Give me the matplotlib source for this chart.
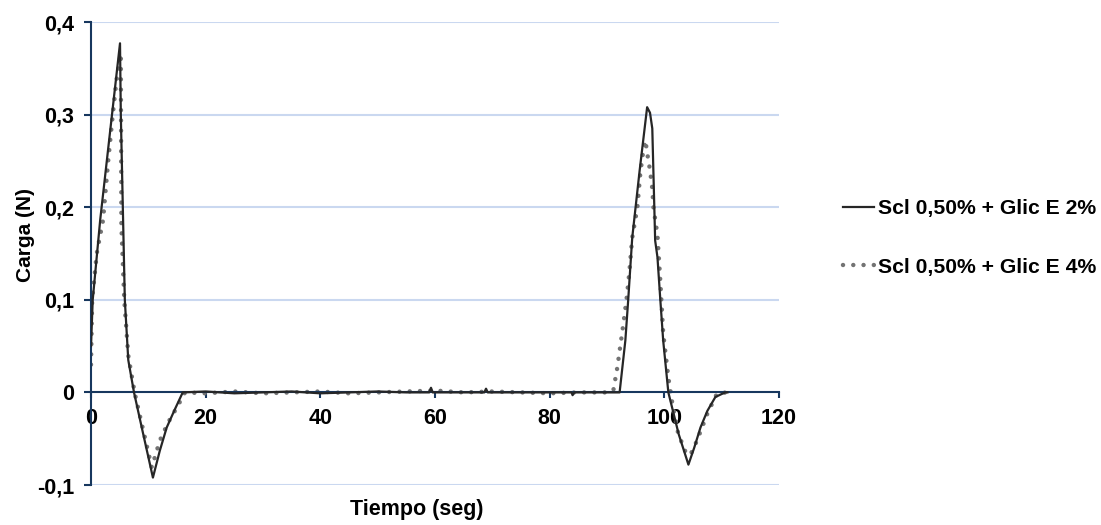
import matplotlib
matplotlib.use("Agg")
import matplotlib.pyplot as plt
from matplotlib.ticker import FuncFormatter

plt.rcParams['font.family'] = ['Liberation Sans', 'DejaVu Sans']
plt.rcParams['font.weight'] = 'bold'

# Series 1: Scl 0,50% + Glic E 2% (solid)
t_2 = [0, 0.3, 1.6, 3.3, 5.06, 5.2, 5.9, 6.5, 7.5, 9.0, 10.8, 12.0, 13.2, 14.5, 16.0,
       20, 25, 30, 35, 40, 45, 50, 55, 59.0, 59.3, 59.6, 65, 68.6, 68.9, 69.2, 75, 80,
       83.8, 84.0, 84.3, 88, 92.2, 93.2, 93.7, 94.4, 95.7, 97.0, 97.5, 97.9, 98.4, 98.8,
       99.3, 99.8, 100.7, 102.5, 104.2, 105.2, 106.3, 107.5, 108.9, 110.6, 111.0]
v_2 = [0.05, 0.10, 0.186, 0.28, 0.377, 0.30, 0.10, 0.035, 0.0, -0.042, -0.092, -0.063, -0.038, -0.02, 0.0,
       0.001, -0.001, 0.0, 0.001, -0.001, 0.0, 0.001, 0.0, 0.0, 0.005, 0.0, 0.0, 0.0, 0.004, 0.0, 0.0, 0.0,
       0.0, -0.003, 0.0, 0.0, 0.0, 0.056, 0.10, 0.167, 0.24, 0.308, 0.302, 0.285, 0.164, 0.146,
       0.10, 0.056, 0.0, -0.045, -0.078, -0.06, -0.038, -0.02, -0.005, 0.0, 0.0]

# Series 2: Scl 0,50% + Glic E 4% (dotted)
t_4 = [0, 0.2, 1.0, 2.1, 3.0, 3.8, 4.5, 5.2, 5.3, 5.8, 6.5, 7.6, 9.0, 10.6, 12.0, 13.5, 15.0, 16.4,
       20, 25, 30, 35, 40, 45, 50, 55, 60, 65, 70, 75, 80, 85, 90, 91.1, 91.8, 92.7, 93.4, 93.9,
       94.4, 95.3, 95.8, 96.3, 96.7, 97.1, 97.5, 97.9, 98.1, 98.8, 99.3, 99.8, 100.7, 101.4,
       102.4, 103.6, 104.5, 105.7, 107.5, 109.2, 111.0]
v_4 = [0.03, 0.10, 0.15, 0.186, 0.25, 0.30, 0.34, 0.366, 0.18, 0.10, 0.04, 0.0, -0.038, -0.081, -0.052, -0.032, -0.016, 0.0,
       -0.001, 0.001, -0.001, 0.0, 0.001, -0.001, 0.0, 0.001, 0.002, 0.0, 0.001, 0.0, -0.001, 0.0, 0.0, 0.002, 0.027, 0.067, 0.10, 0.13,
       0.167, 0.20, 0.236, 0.26, 0.272, 0.255, 0.24, 0.22, 0.20, 0.17, 0.12, 0.064, 0.016, -0.012,
       -0.044, -0.063, -0.068, -0.052, -0.023, -0.001, 0.0]

labels = ["Scl 0,50% + Glic E 2%", "Scl 0,50% + Glic E 4%"]
x_ticks = [0, 20, 40, 60, 80, 100, 120]
y_ticks = [-0.1, 0, 0.1, 0.2, 0.3, 0.4]

fig = plt.figure(figsize=(11.01, 5.25), dpi=100)
ax = fig.add_axes([91/1101, 1-485/525, (779-91)/1101, (485-22)/525])

navy = '#17375e'
for y in [-0.1, 0.1, 0.2, 0.3, 0.4]:
    ax.axhline(y, color='#cad8f0', lw=1.5, zorder=0)

ax.plot(t_4, v_4, color='#737373', lw=3.2, linestyle=(0, (0.01, 2.3)),
        dash_capstyle='round', label=labels[1], zorder=2)
ax.plot(t_2, v_2, color='#262626', lw=1.6, label=labels[0], zorder=3)

ax.set_xlim(0, 120)
ax.set_ylim(-0.1, 0.4)
ax.set_xticks(x_ticks)
ax.set_yticks(y_ticks)

def fmt(v, pos):
    s = ('%.1f' % v) if abs(v) > 1e-9 else '0'
    return s.replace('.', ',')
ax.yaxis.set_major_formatter(FuncFormatter(fmt))
ax.xaxis.set_major_formatter(FuncFormatter(lambda v, p: '%d' % v))

ax.spines['top'].set_visible(False)
ax.spines['right'].set_visible(False)
ax.spines['bottom'].set_position(('data', 0))
for s in ['left', 'bottom']:
    ax.spines[s].set_color(navy)
    ax.spines[s].set_linewidth(1.5)
ax.tick_params(axis='y', direction='out', length=5, width=1.5, color=navy,
               labelsize=15.5, pad=7)
ax.tick_params(axis='x', direction='out', length=4, width=1.5, color=navy,
               labelsize=15.5, pad=7)
for lab in ax.get_xticklabels() + ax.get_yticklabels():
    lab.set_fontweight('bold')

ax.set_xlabel('Tiempo (seg)', fontsize=15.5, fontweight='bold')
ax.xaxis.set_label_coords(0.474, -0.03)
ax.set_ylabel('Carga (N)', fontsize=15, fontweight='bold')
ax.yaxis.set_label_coords(-0.082, 0.54)

h, l = ax.get_legend_handles_labels()
leg = fig.legend([h[1], h[0]], [l[1], l[0]], loc='center left',
                 bbox_to_anchor=(843/1101, 1-238/525), frameon=False,
                 fontsize=15.2, labelspacing=1.85, handlelength=1.45, handletextpad=0.2,
                 borderaxespad=0, borderpad=0)
for t in leg.get_texts():
    t.set_fontweight('bold')

fig.savefig('out.png', dpi=100)
